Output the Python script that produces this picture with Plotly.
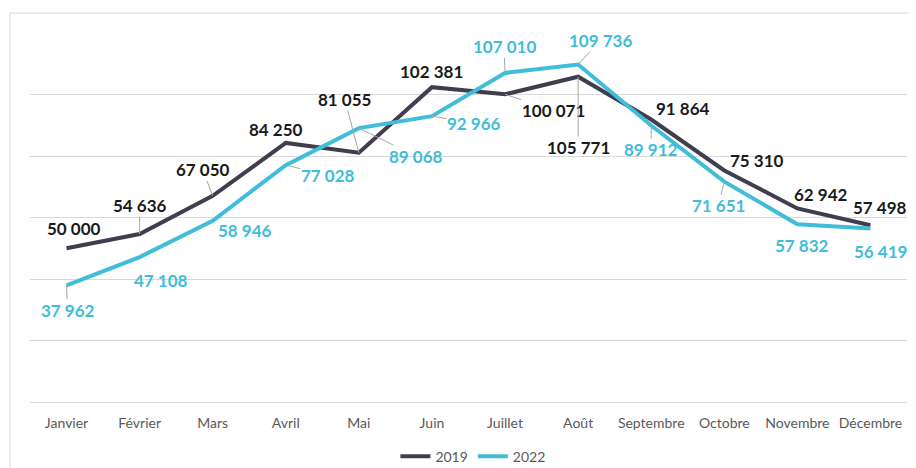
import plotly.graph_objects as go

months = ["Janvier", "Février", "Mars", "Avril", "Mai", "Juin", "Juillet",
          "Août", "Septembre", "Octobre", "Novembre", "Décembre"]
visits_2019 = [50000, 54636, 67050, 84250, 81055, 102381, 100071,
               105771, 91864, 75310, 62942, 57498]
visits_2022 = [37962, 47108, 58946, 77028, 89068, 92966, 107010,
               109736, 89912, 71651, 57832, 56419]

DARK = "#403d4f"
CYAN = "#3fbdd9"
FONT = "Lato"


def fmt(v):
    return f"{v:,}".replace(",", " ")


# label offsets (px) from each point and whether a leader line is drawn
offsets_2019 = [(7, -20, False), (0, -28, True), (-10, -26, True), (-10, -13, False),
                (-14, -53, True), (0, -16, False), (48, 16, True), (0, 71, True),
                (32, -11, False), (33, -10, False), (24, -14, False), (10, -18, False)]
offsets_2022 = [(1, 25, True), (21, 23, False), (32, 10, False), (42, 10, True),
                (57, 28, True), (42, 7, True), (-1, -26, True), (22, -24, True),
                (0, 24, True), (-6, 24, True), (5, 21, False), (10, 23, False)]

fig = go.Figure()
fig.add_trace(go.Scatter(x=months, y=visits_2019, name="2019", mode="lines",
                         line=dict(color=DARK, width=4)))
fig.add_trace(go.Scatter(x=months, y=visits_2022, name="2022", mode="lines",
                         line=dict(color=CYAN, width=4)))

annotations = []
for values, offs, color in ((visits_2019, offsets_2019, "#1a1a1a"),
                            (visits_2022, offsets_2022, CYAN)):
    for m, v, (dx, dy, leader) in zip(months, values, offs):
        annotations.append(dict(
            x=m, y=v, text=fmt(v), showarrow=True, ax=dx, ay=dy,
            arrowhead=0, arrowwidth=1,
            arrowcolor="#a6a6a6" if leader else "rgba(0,0,0,0)",
            standoff=0, borderpad=0,
            font=dict(family=FONT, size=17, color=color, weight="bold"),
        ))

# page body adds an 8px offset, so the figure is sized to fit the window
fig.update_layout(
    width=900, height=460,
    margin=dict(l=22, r=1, t=25, b=66, autoexpand=False),
    paper_bgcolor="white", plot_bgcolor="white",
    font=dict(family=FONT, color="#595959"),
    annotations=annotations,
    showlegend=True,
    legend=dict(orientation="h", x=0.505, xanchor="center", y=-0.148, yanchor="middle",
                font=dict(size=14, color="#595959"), itemwidth=30,
                bgcolor="rgba(0,0,0,0)"),
    shapes=[dict(type="rect", xref="paper", yref="paper",
                 x0=-0.0228, x1=1.2, y0=-0.4, y1=1.054,
                 line=dict(color="#d9d9d9", width=1), layer="below")],
)
fig.update_xaxes(type="category", range=[-0.5, 11.5], showgrid=False, automargin=False,
                 showline=True, linecolor="#d9d9d9", linewidth=1,
                 tickfont=dict(size=14, color="#595959"), ticks="",
                 ticklabelstandoff=8)
fig.update_yaxes(range=[0, 120000], dtick=20000, showticklabels=False, automargin=False,
                 gridcolor="#d9d9d9", gridwidth=1, zeroline=False)

fig.write_html("out.html")
